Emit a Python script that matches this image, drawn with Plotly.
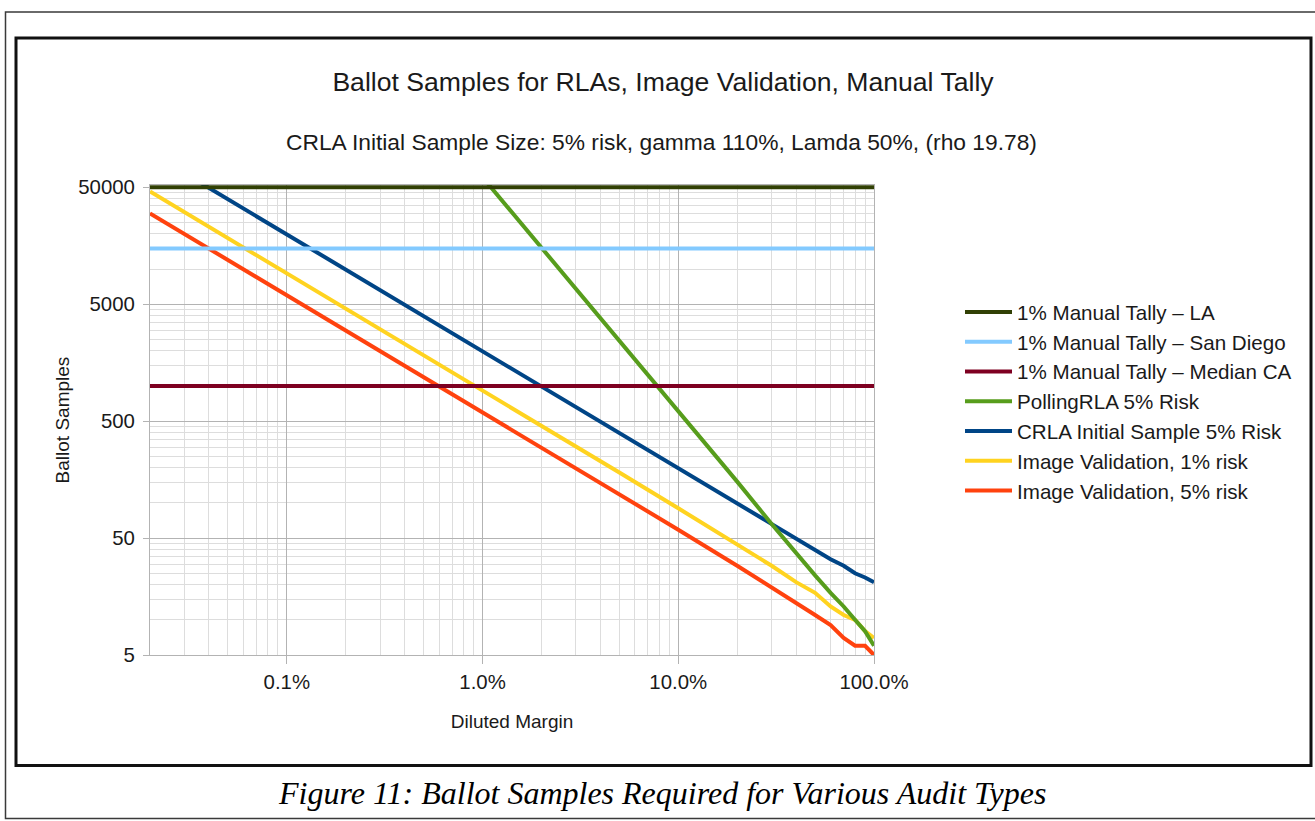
import plotly.graph_objects as go

# ---------------- data ----------------
margins = [0.0002, 0.0005, 0.001, 0.002, 0.005, 0.01, 0.02, 0.05, 0.1,
           0.2, 0.3, 0.4, 0.5, 0.6, 0.7, 0.8, 0.9, 1.0]
polling_margins = [0.01, 0.02, 0.05, 0.1, 0.2, 0.3, 0.4, 0.5, 0.6, 0.7, 0.8, 0.9, 1.0]
tally_span = [0.0002, 1.0]

tally_la = [50000, 50000]
tally_san_diego = [15000, 15000]
tally_median_ca = [1000, 1000]
polling_rla_5 = [61000, 15300, 2450, 610, 152, 66, 37, 24, 17, 13, 10, 8, 6]
crla_initial_5 = [98900, 39560, 19780, 9890, 3956, 1978, 989, 396, 198, 99,
                  66, 50, 40, 33, 29, 25, 23, 21]
image_val_1 = [46050, 18420, 9210, 4604, 1840, 919, 458, 182, 90, 44,
               29, 21, 17, 13, 11, 10, 8, 7]
image_val_5 = [29950, 11980, 5990, 2994, 1197, 598, 298, 119, 59, 29,
               19, 14, 11, 9, 7, 6, 6, 5]

x_tick_vals = [0.001, 0.01, 0.1, 1.0]
x_tick_text = ["0.1%", "1.0%", "10.0%", "100.0%"]
y_tick_vals = [5, 50, 500, 5000, 50000]
y_tick_text = ["5", "50", "500", "5000", "50000"]

title_text = "Ballot Samples for RLAs, Image Validation, Manual Tally"
subtitle_text = "CRLA Initial Sample Size: 5% risk, gamma 110%, Lamda 50%, (rho 19.78)"
caption_text = "Figure 11: Ballot Samples Required for Various Audit Types"

# ---------------- figure ----------------
W, H = 1315, 821
ML, MR, MT, MB = 150, 441, 185, 166
PW, PH = W - ML - MR, H - MT - MB


def px(x):
    return (x - ML) / PW


def py(y):
    return (H - MB - y) / PH


FONT = "Liberation Sans, Arial, sans-serif"
LW = 4

series = [
    # (name, x, y, color, legendrank)
    ("Image Validation, 5% risk", margins, image_val_5, "#ff420e", 7),
    ("Image Validation, 1% risk", margins, image_val_1, "#ffd320", 6),
    ("CRLA Initial Sample 5% Risk", margins, crla_initial_5, "#004586", 5),
    ("PollingRLA 5% Risk", polling_margins, polling_rla_5, "#579d1c", 4),
    ("1% Manual Tally – Median CA", tally_span, tally_median_ca, "#7e0021", 3),
    ("1% Manual Tally – San Diego", tally_span, tally_san_diego, "#83caff", 2),
    ("1% Manual Tally – LA", tally_span, tally_la, "#314004", 1),
]

fig = go.Figure()
for name, xs, ys, color, rank in series:
    fig.add_trace(go.Scatter(
        x=xs, y=ys, name=name, mode="lines",
        line=dict(color=color, width=LW),
        legendrank=rank, hoverinfo="x+y+name",
    ))

minor_x = [k * 10 ** n for n in range(-4, 0) for k in range(2, 10)]
minor_y = [5 * k * 10 ** n for n in range(0, 4) for k in range(2, 10)]

fig.update_layout(
    width=W, height=H, autosize=False,
    margin=dict(l=ML, r=MR, t=MT, b=MB, pad=0),
    paper_bgcolor="white", plot_bgcolor="white",
    font=dict(family=FONT, color="#1a1a1a"),
    title=dict(text=title_text, x=663 / W, xref="container", xanchor="center",
               y=1 - 82 / H, yref="container", yanchor="middle",
               font=dict(size=26.6, family=FONT, color="#1a1a1a")),
    showlegend=True,
    legend=dict(x=px(960), xanchor="left", y=py(401.5), yanchor="middle",
                font=dict(size=20.6, family=FONT, color="#1a1a1a"),
                bgcolor="rgba(0,0,0,0)", borderwidth=0, itemwidth=47,
                traceorder="normal"),
    xaxis=dict(
        type="log", range=[-3.69897, 0.0],
        tickmode="array", tickvals=x_tick_vals, ticktext=x_tick_text,
        tickfont=dict(size=20.4, family=FONT, color="#1a1a1a"),
        ticks="outside", ticklen=8, tickcolor="#b3b3b3", tickwidth=1,
        showgrid=True, gridcolor="#b3b3b3", gridwidth=1,
        showline=True, linecolor="#b3b3b3", linewidth=1, mirror=True,
        zeroline=False, ticklabelstandoff=1,
        minor=dict(tickmode="array", tickvals=minor_x, showgrid=True,
                   gridcolor="#dddddd", gridwidth=1, ticks=""),
        title=dict(text="Diluted Margin", standoff=22,
                   font=dict(size=19, family=FONT, color="#1a1a1a")),
    ),
    yaxis=dict(
        type="log", range=[0.69897, 4.71897],
        tickmode="array", tickvals=y_tick_vals, ticktext=y_tick_text,
        tickfont=dict(size=20.4, family=FONT, color="#1a1a1a"),
        ticks="outside", ticklen=6, tickcolor="#b3b3b3", tickwidth=1,
        showgrid=True, gridcolor="#b3b3b3", gridwidth=1,
        showline=True, linecolor="#b3b3b3", linewidth=1, mirror=True,
        zeroline=False, ticklabelstandoff=4,
        minor=dict(tickmode="array", tickvals=minor_y, showgrid=True,
                   gridcolor="#dddddd", gridwidth=1, ticks=""),
        title=dict(text="Ballot Samples", standoff=3,
                   font=dict(size=19, family=FONT, color="#1a1a1a")),
    ),
    shapes=[
        dict(type="rect", xref="paper", yref="paper", layer="below",
             x0=px(5.5), x1=px(1330), y0=py(818.5), y1=py(12),
             line=dict(color="#3a3a3a", width=1.5), fillcolor="rgba(0,0,0,0)"),
        dict(type="rect", xref="paper", yref="paper", layer="below",
             x0=px(16), x1=px(1311), y0=py(765.5), y1=py(38),
             line=dict(color="#111111", width=3), fillcolor="rgba(0,0,0,0)"),
    ],
    annotations=[
        dict(text=subtitle_text, xref="paper", yref="paper",
             x=px(661), y=py(142), xanchor="center", yanchor="middle",
             showarrow=False, font=dict(size=22.8, family=FONT, color="#1a1a1a")),
        dict(text="<i>" + caption_text + "</i>", xref="paper", yref="paper",
             x=px(662), y=py(793), xanchor="center", yanchor="middle",
             showarrow=False,
             font=dict(size=32, family="Liberation Serif, Times New Roman, serif",
                       color="#000000")),
    ],
)

fig.write_html("out.html", config={"displayModeBar": False},
               post_script="document.body.style.margin='0';document.body.style.overflow='hidden';")
